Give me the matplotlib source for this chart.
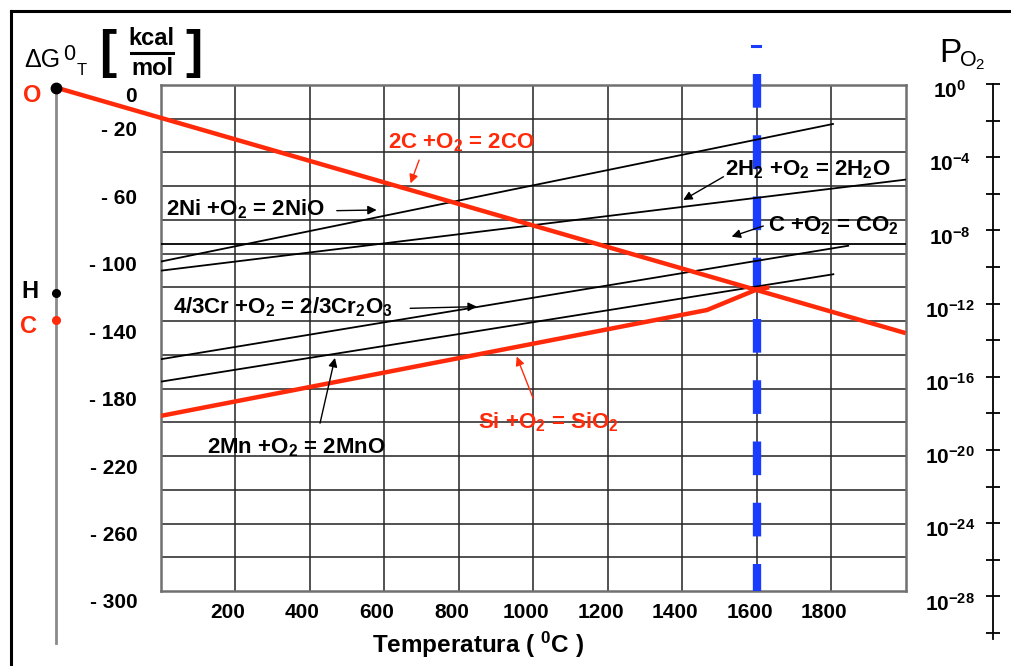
import matplotlib.pyplot as plt
from matplotlib.lines import Line2D
from matplotlib.transforms import blended_transform_factory

plt.rcParams['font.family'] = ['Liberation Sans', 'DejaVu Sans']
plt.rcParams['mathtext.fontset'] = 'custom'
plt.rcParams['mathtext.rm'] = 'Liberation Sans'
plt.rcParams['mathtext.default'] = 'regular'

# axis values
temp_ticks = [200, 400, 600, 800, 1000, 1200, 1400, 1600, 1800]
dg_labels = [0, -20, -60, -100, -140, -180, -220, -260, -300]
po2_ticks = list(range(0, -31, -2))
po2_labels = list(range(0, -29, -4))

# reactions: temperature (C) and dG0 (kcal / mol O2)
co_T = [-281, 2000]
co_G = [-1.5, -147.1]
si_T = [0, 1467, 1601, 1628]
si_G = [-196.2, -133.4, -121.2, -120.2]
ni_T = [0, 1805]
ni_G = [-104.7, -23.1]
h2_T = [0, 2000]
h2_G = [-110.1, -56.1]
co2_T = [0, 2000]
co2_G = [-94.3, -94.3]
cr_T = [0, 1846]
cr_G = [-162.6, -95.3]
mn_T = [0, 1806]
mn_G = [-175.9, -112.2]

# nomogram points on the 0 K axis (O, H, C)
pt_T = -281
pt_G = [-1.5, -123.1, -139.3]
steel_T = 1600

RED = '#ff2a0a'
BLUE = '#1a3cff'
W, H = 1012, 666


def fx(x):
    return x / W


def fy(y):
    return 1 - y / H


fig = plt.figure(figsize=(W / 100, H / 100), dpi=100)
ax = fig.add_axes([160.6 / W, 1 - 591 / H, 745 / W, (591 - 85) / H])
ax.set_xlim(0, 2000)
ax.set_ylim(-300, 0)
ax.set_xticks(temp_ticks)
ax.set_yticks(range(-280, 0, 20))
ax.set_axisbelow(True)
ax.grid(True, color='#2a2a2a', lw=1.15)
ax.tick_params(length=0, labelbottom=False, labelleft=False)
for s in ax.spines.values():
    s.set_color('#707070')
    s.set_linewidth(1.8)

# blue dashed line at 1600 C
ax.plot([steel_T, steel_T], [6.5, -300], color=BLUE, lw=6, ls=(0, (4.04, 3.31)),
        solid_capstyle='butt', clip_on=False, zorder=3)
ax.plot([steel_T - 12, steel_T + 9], [23.1, 23.1], color=BLUE, lw=2.2, clip_on=False)

# black lines
for T, G in [(ni_T, ni_G), (h2_T, h2_G), (co2_T, co2_G), (cr_T, cr_G), (mn_T, mn_G)]:
    ax.plot(T, G, color='k', lw=1.3, zorder=4)

# red lines
ax.plot(co_T, co_G, color=RED, lw=3.2, clip_on=False, zorder=5, solid_capstyle='butt')
ax.plot(si_T, si_G, color=RED, lw=3.2, zorder=5, solid_joinstyle='round')

# 0 K axis with points
ax.plot([pt_T, pt_T], [pt_G[0], -330.8], color='#8a8a8a', lw=2, clip_on=False, zorder=2)
ax.plot(pt_T, pt_G[0], 'o', color='k', ms=7.5, clip_on=False, zorder=6)
ax.plot(pt_T, pt_G[1], 'o', color='k', ms=5.5, clip_on=False, zorder=6)
ax.plot(pt_T, pt_G[2], 'o', color=RED, ms=5.5, clip_on=False, zorder=6)

# tick labels
for v in dg_labels:
    lab = '0' if v == 0 else '- %d' % abs(v)
    ax.text(-63, v - 7.1, lab, ha='right', va='center', fontsize=15,
            fontweight='bold', clip_on=False)
for t in temp_ticks:
    ax.text(t - 19, -312.5, str(t), ha='center', va='center', fontsize=15,
            fontweight='bold', clip_on=False)
ax.text(852, -332, 'Temperatura ( $^0$C )', ha='center', va='center',
        fontsize=17.5, fontweight='bold', clip_on=False)

# reaction labels and arrows
bold = dict(fontsize=16, fontweight='bold', va='baseline', ha='left')
ax.text(610, -37.3, '2C +O$_2$ = 2CO', color=RED, **bold)
ax.text(14, -77.1, '2Ni +O$_2$ = 2NiO', color='k', **bold)
ax.text(1515, -53.4, '2H$_2$ +O$_2$ = 2H$_2$O', color='k', **bold)
ax.text(1631, -86.9, 'C +O$_2$ = CO$_2$', color='k', **bold)
ax.text(34, -135.4, '4/3Cr +O$_2$ = 2/3Cr$_2$O$_3$', color='k', **bold)
ax.text(125, -218.3, '2Mn +O$_2$ = 2MnO', color='k', **bold)
ax.text(852, -203.5, 'Si +O$_2$ = SiO$_2$', color=RED, **bold)

arrows = [
    ((671, -58.3), (694, -44.5), RED),
    ((580, -74.1), (473, -74.5), 'k'),
    ((1403, -68.2), (1511, -54.4), 'k'),
    ((1533, -89.9), (1618, -83.6), 'k'),
    ((849, -131.4), (670, -132.4), 'k'),
    ((468, -161.8), (428, -200.5), 'k'),
    ((956, -161.0), (1000, -185.7), RED),
]
for head, tail, c in arrows:
    ax.annotate('', xy=head, xytext=tail, annotation_clip=False,
                arrowprops=dict(arrowstyle='-|>', color=c, lw=1, mutation_scale=13,
                                shrinkA=0, shrinkB=0), zorder=7)

# right P_O2 scale
axr = fig.add_axes([993 / W, 1 - 638.5 / H, 0.0005, (638.5 - 84) / H])
axr.set_ylim(-30.3, 0)
axr.set_xlim(0, 1)
for k in ['right', 'top', 'bottom']:
    axr.spines[k].set_visible(False)
axr.spines['left'].set_linewidth(1.3)
axr.set_xticks([])
axr.set_yticks(po2_ticks)
axr.tick_params(axis='y', direction='inout', length=10, width=1.3, labelleft=False)
axr.patch.set_visible(False)
tr = blended_transform_factory(fig.transFigure, axr.transData)
for e in po2_labels:
    axr.text(fx(950), e - 0.38, '10$^{%d}$' % e, transform=tr, ha='center',
             va='center', fontsize=15, fontweight='bold')

# titles
fig.text(fx(24), fy(67), 'ΔG', fontsize=18, ha='left', va='baseline')
fig.text(fx(63), fy(60.5), '0', fontsize=15.5, ha='left', va='baseline')
fig.text(fx(76.5), fy(75), 'T', fontsize=12, ha='left', va='baseline')
fig.text(fx(107.5), fy(53), '[', fontsize=37, fontweight='bold', ha='center', va='center')
fig.text(fx(194), fy(53), ']', fontsize=37, fontweight='bold', ha='center', va='center')
fig.text(fx(151), fy(45), 'kcal', fontsize=17, fontweight='bold', ha='center', va='baseline')
fig.text(fx(152), fy(75), 'mol', fontsize=17, fontweight='bold', ha='center', va='baseline')
fig.add_artist(Line2D([fx(130.7), fx(173.3)], [fy(52.7)] * 2, lw=2.2, color='k',
                      transform=fig.transFigure))
fig.text(fx(939), fy(61.5), 'P', fontsize=24, ha='left', va='baseline')
fig.text(fx(959), fy(66.5), 'O$_2$', fontsize=15.5, ha='left', va='baseline')

fig.text(fx(32.5), fy(101.5), 'O', color=RED, fontsize=17, fontweight='bold',
         ha='center', va='baseline')
fig.text(fx(30), fy(298.3), 'H', color='k', fontsize=17, fontweight='bold',
         ha='center', va='baseline')
fig.text(fx(28.5), fy(332.7), 'C', color=RED, fontsize=17, fontweight='bold',
         ha='center', va='baseline')

# outer frame
fig.add_artist(Line2D([fx(11), fx(1012)], [fy(11)] * 2, lw=2.2, color='k',
                      transform=fig.transFigure))
fig.add_artist(Line2D([fx(11)] * 2, [fy(11), fy(666)], lw=2.2, color='k',
                      transform=fig.transFigure))

fig.savefig('out.png', dpi=100)
